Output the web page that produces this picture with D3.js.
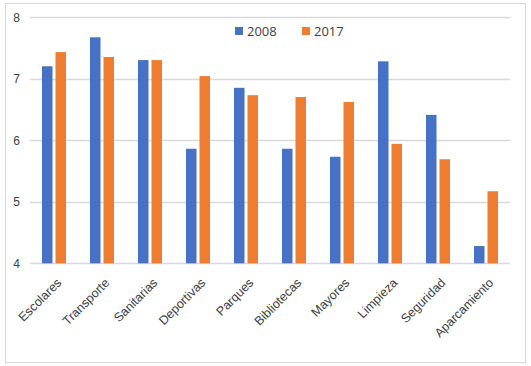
<!DOCTYPE html>
<html><head><meta charset="utf-8">
<script src="https://cdn.jsdelivr.net/npm/d3@7"></script>
<style>body{margin:0;background:#fff}svg{display:block;font-family:"Open Sans",sans-serif}</style>
</head><body><svg id="c" width="531" height="366"></svg>
<script>
const categories = ["Escolares","Transporte","Sanitarias","Deportivas","Parques","Bibliotecas","Mayores","Limpieza","Seguridad","Aparcamiento"];
const series = ["2008","2017"];
const values2008 = [7.20,7.67,7.30,5.86,6.85,5.86,5.73,7.28,6.41,4.28];
const values2017 = [7.43,7.35,7.30,7.04,6.73,6.70,6.62,5.94,5.69,5.17];
const yTicks = [4,5,6,7,8];
const colors = ["#4472C4","#ED7D31"];

const svg = d3.select("#c");
svg.append("rect").attr("x",5.5).attr("y",3.5).attr("width",520).attr("height",359)
  .attr("fill","#fff").attr("stroke","#D9D9D9");

const pL=30,pR=510,pT=17,pB=263.3;
const x = d3.scaleBand().domain(categories).range([pL,pR]);
const y = d3.scaleLinear().domain([4,8]).range([pB,pT]);
const barW = 10.5, gap = 3;
const xs = d3.scaleOrdinal().domain(series).range([-(barW+gap/2), gap/2]);

const g = svg.append("g");
g.selectAll("line.grid").data(yTicks).join("line")
  .attr("x1",pL).attr("x2",pR)
  .attr("y1",d=>Math.round(y(d))+0.5).attr("y2",d=>Math.round(y(d))+0.5)
  .attr("stroke","#D9D9D9").attr("stroke-width",1.3);

const yAxis = d3.axisLeft(y).tickValues(yTicks).tickFormat(d3.format("d")).tickSize(0).tickPadding(0);
const ya = g.append("g").attr("transform",`translate(20,0)`).call(yAxis);
ya.select(".domain").remove();
ya.selectAll("text").attr("fill","#404040").attr("font-size","12px").attr("dy","0.35em");

const data = [values2008, values2017];
data.forEach((vals,si)=>{
  g.selectAll(null).data(vals).join("rect")
    .attr("x",(d,i)=>x(categories[i])+x.bandwidth()/2+xs(series[si]))
    .attr("width",barW)
    .attr("y",d=>y(d))
    .attr("height",d=>y(4)-y(d))
    .attr("fill",colors[si]);
});

const xAxis = d3.axisBottom(x).tickSize(0).tickPadding(0);
const xa = g.append("g").attr("transform",`translate(0,${pB})`).call(xAxis);
xa.select(".domain").remove();
xa.selectAll("text")
  .attr("fill","#404040").attr("font-size","12.5px")
  .attr("text-anchor","end").attr("dy",null).attr("y",0)
  .attr("transform","translate(2,14) rotate(-45)")
  .attr("dominant-baseline","hanging");

const leg = svg.append("g");
const legX = [235,302];
series.forEach((s,i)=>{
  leg.append("rect").attr("x",legX[i]).attr("y",27).attr("width",8).attr("height",8).attr("fill",colors[i]);
  leg.append("text").attr("x",legX[i]+12).attr("y",31).attr("dy","0.35em")
    .attr("font-size","13px").attr("fill","#404040").text(s);
});
</script></body></html>
